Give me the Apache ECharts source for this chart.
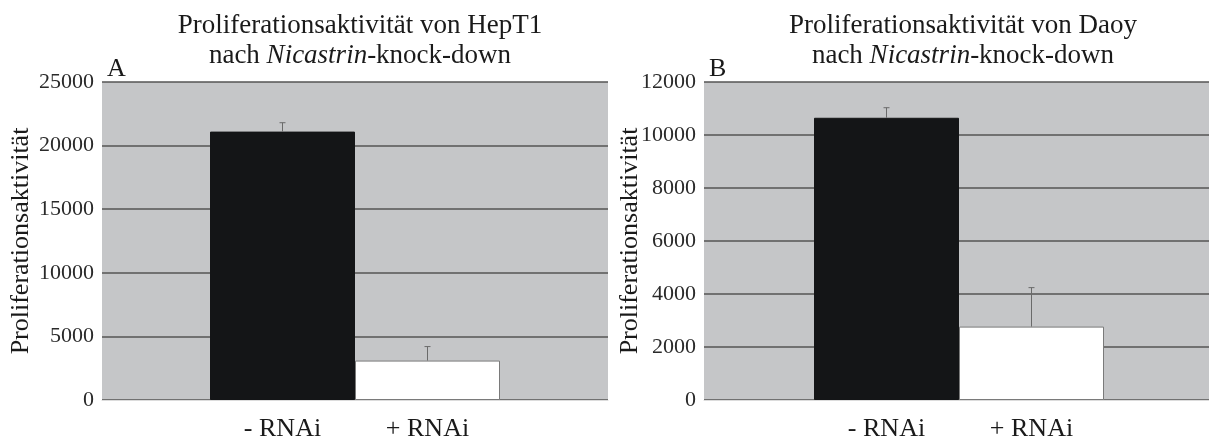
<!DOCTYPE html>
<html>
<head>
<meta charset="utf-8">
<script src="https://cdn.jsdelivr.net/npm/echarts@6/dist/echarts.min.js"></script>
<style>
html,body{margin:0;padding:0;background:#ffffff;}
#chart{width:1209px;height:437px;}
</style>
</head>
<body>
<div id="chart"></div>
<script>
// ---- data ----
const categories = ['- RNAi', '+ RNAi'];
const hepValues = [21100, 3100];
const hepErrors = [700, 1100];
const daoyValues = [10650, 2770];
const daoyErrors = [380, 1470];
const hepAxis = { min: 0, max: 25000, interval: 5000 };
const daoyAxis = { min: 0, max: 12000, interval: 2000 };
const yAxisName = 'Proliferationsaktivität';
const titleLine1 = ['Proliferationsaktivität von HepT1', 'Proliferationsaktivität von Daoy'];
const titleItalic = 'Nicastrin';
const panelLetters = ['A', 'B'];
const barColors = ['#141517', '#ffffff'];

const FONT = 'Liberation Serif';
const TXT = '#1a1a1a';

const chart = echarts.init(document.getElementById('chart'), null, { renderer: 'canvas' });

function titleRich(line1) {
  return {
    text: '{a|' + line1 + '}\n{a|nach }{i|' + titleItalic + '}{a|-knock-down}',
    textStyle: {
      fontWeight: 'normal',
      rich: {
        a: { fontFamily: FONT, fontSize: 27, color: TXT, lineHeight: 30, fontWeight: 'normal' },
        i: { fontFamily: FONT, fontSize: 27, color: TXT, lineHeight: 30, fontStyle: 'italic', fontWeight: 'normal' }
      }
    }
  };
}

const panels = [
  { bgLeft: 102, bgWidth: 506, barLeft: 210, nameGap: 68, axis: hepAxis, values: hepValues, errors: hepErrors, titleX: 355, letterX: 102 },
  { bgLeft: 704, bgWidth: 505, barLeft: 814, nameGap: 61, axis: daoyAxis, values: daoyValues, errors: daoyErrors, titleX: 958, letterX: 704 }
];

const TOP = 82, HEIGHT = 318, BARW = 290;

const grids = [], xAxes = [], yAxes = [], series = [], titles = [];

panels.forEach((p, k) => {
  const gBg = grids.length;
  grids.push({ left: p.bgLeft, top: TOP, width: p.bgWidth, height: HEIGHT, show: true, backgroundColor: '#c5c6c8', borderWidth: 0, outerBoundsMode: 'none' });
  const gBar = grids.length;
  grids.push({ left: p.barLeft, top: TOP, width: BARW, height: HEIGHT, show: false, outerBoundsMode: 'none' });

  xAxes.push({ gridIndex: gBg, type: 'category', data: [''], axisLine: { show: true, lineStyle: { color: '#dcdcdc', width: 1 } }, axisTick: { show: false }, axisLabel: { show: false }, splitLine: { show: false } });
  xAxes.push({ gridIndex: gBar, type: 'category', data: categories, boundaryGap: true, axisLine: { show: false }, axisTick: { show: false }, axisLabel: { show: true, fontFamily: FONT, fontSize: 26, color: TXT, margin: 16 }, splitLine: { show: false }, z: 5 });

  yAxes.push({ gridIndex: gBg, type: 'value', min: p.axis.min, max: p.axis.max, interval: p.axis.interval,
    name: yAxisName, nameLocation: 'middle', nameGap: p.nameGap, nameRotate: 90, nameMoveOverlap: false,
    nameTextStyle: { fontFamily: FONT, fontSize: 26, color: TXT },
    axisLine: { show: false }, axisTick: { show: false },
    axisLabel: { fontFamily: FONT, fontSize: 22, color: '#2a2a2a', margin: 8, formatter: v => String(v) },
    splitLine: { show: true, lineStyle: { color: '#555555', width: 1.5 } } });
  yAxes.push({ gridIndex: gBar, type: 'value', min: p.axis.min, max: p.axis.max, interval: p.axis.interval, show: false, splitLine: { show: false } });

  const xi = xAxes.length - 1, yi = yAxes.length - 1;
  series.push({
    type: 'bar', xAxisIndex: xi, yAxisIndex: yi, barCategoryGap: '0%', z: 3,
    data: p.values.map((v, i) => ({ value: v, itemStyle: { color: barColors[i], borderColor: i === 1 ? '#7a7a7a' : barColors[i], borderWidth: 1 } }))
  });
  series.push({
    type: 'custom', xAxisIndex: xi, yAxisIndex: yi, z: 4,
    data: p.values.map((v, i) => [i, v, p.errors[i]]),
    renderItem: function (params, api) {
      const base = api.coord([api.value(0), api.value(1)]);
      const top = api.coord([api.value(0), api.value(1) + api.value(2)]);
      const st = { stroke: '#6a6a6a', lineWidth: 1 };
      return { type: 'group', children: [
        { type: 'line', shape: { x1: base[0], y1: base[1], x2: top[0], y2: top[1] }, style: st },
        { type: 'line', shape: { x1: top[0] - 3, y1: top[1], x2: top[0] + 3, y2: top[1] }, style: st }
      ] };
    }
  });

  const t = titleRich(titleLine1[k]);
  titles.push({ text: t.text, left: p.titleX, top: 6, textAlign: 'center', textStyle: t.textStyle });
  titles.push({ text: panelLetters[k], left: p.letterX, top: 51, textStyle: { fontFamily: FONT, fontSize: 26, fontWeight: 'normal', color: TXT } });
});

chart.setOption({
  animation: false,
  backgroundColor: '#ffffff',
  title: titles,
  grid: grids,
  xAxis: xAxes,
  yAxis: yAxes,
  series: series
});
</script>
</body>
</html>
